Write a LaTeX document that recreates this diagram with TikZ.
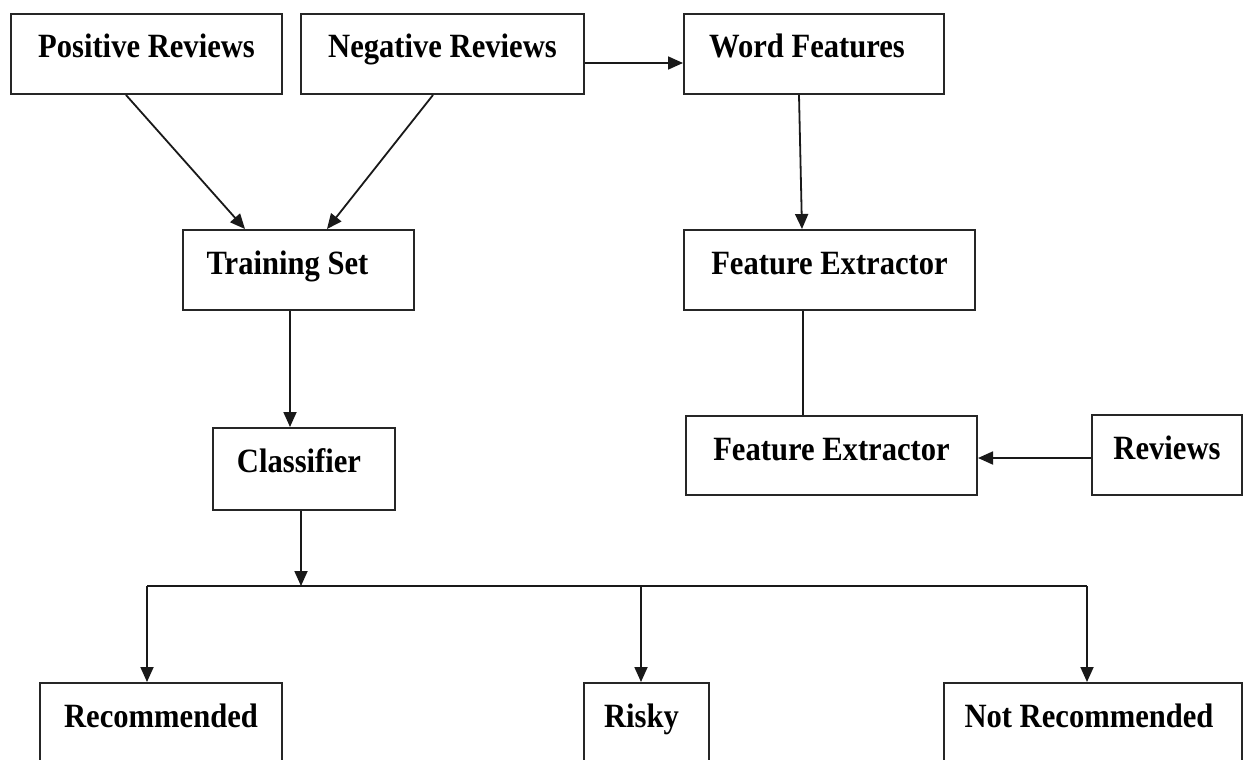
\documentclass[tikz,border=0pt]{standalone}
\usepackage{fontspec}
\setmainfont{Liberation Serif}[FakeStretch=0.9]
\usetikzlibrary{arrows.meta}
\begin{document}
\begin{tikzpicture}[x=1pt,y=-1pt,
  box/.style={draw=black!85, line width=2pt, inner sep=0pt, anchor=north west,
    text height=44pt, text depth=36pt,
    font=\bfseries\fontsize{34}{40}\selectfont},
  lowbox/.style={box, text depth=80pt},
  conn/.style={line width=1.8pt, draw=black!90},
  arr/.style={conn, -{Triangle[length=15pt,width=13pt]}}]
\useasboundingbox (0,0) rectangle (1243,760);
\clip (0,0) rectangle (1243,760);
\fill[white] (0,0) rectangle (1243,760);
% nodes
\node[box, minimum width=271pt] (pos) at (10,13) {Positive Reviews};
\node[box, minimum width=283pt] (neg) at (300,13) {Negative Reviews};
\node[box, minimum width=260pt] (wf) at (683,13) {\hspace*{-14pt}Word Features};
\node[box, minimum width=231pt] (train) at (182,229) {\hspace*{-22pt}Training Set};
\node[box, minimum width=291pt] (fe1) at (683,229) {Feature Extractor};
\node[box, minimum width=182pt, text depth=38pt] (cls) at (212,427) {\hspace*{-10pt}Classifier};
\node[box, minimum width=291pt, text depth=35pt] (fe2) at (685,415) {Feature Extractor};
\node[box, minimum width=150pt] (rev) at (1091,414) {Reviews};
\node[lowbox, minimum width=242pt] (rec) at (39,682) {Recommended};
\node[lowbox, minimum width=125pt] (risky) at (583,682) {\hspace*{-10pt}Risky};
\node[lowbox, minimum width=298pt] (notrec) at (943,682) {\hspace*{-8pt}Not Recommended};
% junction coordinates
\coordinate (j) at (301,586);
\coordinate (hl) at (147,586);
\coordinate (hm) at (641,586);
\coordinate (hr) at (1087,586);
% connectors
\draw[arr] ([xshift=116pt]pos.south west) -- ([xshift=63pt]train.north west);
\draw[arr] ([xshift=133pt]neg.south west) -- ([xshift=145pt]train.north west);
\draw[arr] ([yshift=-50pt]neg.north east) -- ([yshift=-50pt]wf.north west);
\draw[arr] ([xshift=116pt]wf.south west) -- ([xshift=119pt]fe1.north west);
\draw[conn] ([xshift=120pt]fe1.south west) -- ([xshift=118pt]fe2.north west);
\draw[arr] ([yshift=-44pt]rev.north west) -- ([yshift=-43pt]fe2.north east);
\draw[arr] ([xshift=108pt]train.south west) -- ([xshift=78pt]cls.north west);
\draw[arr] ([xshift=89pt]cls.south west) -- (j);
\draw[conn] (hl) -- (hr);
\draw[arr] (hl) -- ([xshift=108pt]rec.north west);
\draw[arr] (hm) -- ([xshift=58pt]risky.north west);
\draw[arr] (hr) -- ([xshift=144pt]notrec.north west);
\end{tikzpicture}
\end{document}
